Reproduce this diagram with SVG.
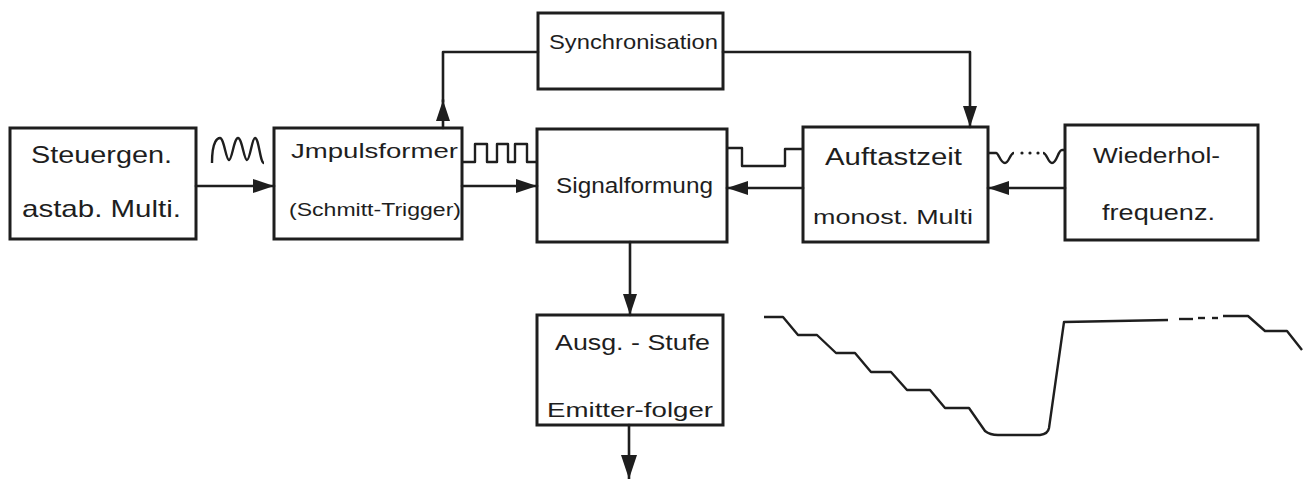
<svg xmlns="http://www.w3.org/2000/svg" width="1311" height="479" viewBox="0 0 1311 479">
<style>
.box{fill:none;stroke:#1e1e1e;stroke-width:3}
.ln{fill:none;stroke:#1e1e1e;stroke-width:2.6;stroke-linejoin:round;stroke-linecap:round}
.wv{fill:none;stroke:#1e1e1e;stroke-width:2.4;stroke-linejoin:round}
.t{font-family:"Liberation Sans",Arial,sans-serif;fill:#1e1e1e}
</style>
<defs>
<marker id="ah" markerUnits="userSpaceOnUse" markerWidth="22" markerHeight="16" refX="21" refY="7" orient="auto">
<path d="M0,0 L21,7 L0,14 z" fill="#1e1e1e"/>
</marker>
<marker id="ahb" markerUnits="userSpaceOnUse" markerWidth="25" markerHeight="18" refX="24" refY="8" orient="auto">
<path d="M0,0 L24,8 L0,16 z" fill="#1e1e1e"/>
</marker>
</defs>
<rect width="1311" height="479" fill="#ffffff"/>

<g id="steuergen">
<rect class="box" x="10" y="128" width="186" height="111"/>
<text class="t" x="31" y="163" font-size="24" textLength="141" lengthAdjust="spacingAndGlyphs">Steuergen.</text>
<text class="t" x="22" y="217" font-size="24" textLength="159" lengthAdjust="spacingAndGlyphs">astab. Multi.</text>
</g>
<g id="impulsformer">
<rect class="box" x="274" y="128" width="188" height="111"/>
<text class="t" x="291" y="158" font-size="20" textLength="167" lengthAdjust="spacingAndGlyphs">Jmpulsformer</text>
<text class="t" x="289" y="216" font-size="18" textLength="172" lengthAdjust="spacingAndGlyphs">(Schmitt-Trigger)</text>
</g>
<g id="signalformung">
<rect class="box" x="537" y="129" width="190" height="113"/>
<text class="t" x="556" y="193" font-size="22" textLength="157" lengthAdjust="spacingAndGlyphs">Signalformung</text>
</g>
<g id="synchronisation">
<rect class="box" x="538" y="13" width="185" height="76"/>
<text class="t" x="549" y="49" font-size="21" textLength="169" lengthAdjust="spacingAndGlyphs">Synchronisation</text>
</g>
<g id="auftastzeit">
<rect class="box" x="803" y="127" width="185" height="115"/>
<text class="t" x="825" y="165" font-size="23" textLength="137" lengthAdjust="spacingAndGlyphs">Auftastzeit</text>
<text class="t" x="813" y="224" font-size="21" textLength="160" lengthAdjust="spacingAndGlyphs">monost. Multi</text>
</g>
<g id="wiederholfrequenz">
<rect class="box" x="1065" y="125" width="193" height="115"/>
<text class="t" x="1093" y="163" font-size="22" textLength="127" lengthAdjust="spacingAndGlyphs">Wiederhol-</text>
<text class="t" x="1102" y="220" font-size="22" textLength="113" lengthAdjust="spacingAndGlyphs">frequenz.</text>
</g>
<g id="ausgangsstufe">
<rect class="box" x="537" y="315" width="186" height="110"/>
<text class="t" x="555" y="350" font-size="22" textLength="155" lengthAdjust="spacingAndGlyphs">Ausg. - Stufe</text>
<text class="t" x="547" y="417" font-size="21" textLength="166" lengthAdjust="spacingAndGlyphs">Emitter-folger</text>
</g>

<g id="connectors">
<line class="ln" x1="196" y1="186" x2="274" y2="186" marker-end="url(#ah)"/>
<line class="ln" x1="462" y1="186" x2="537" y2="186" marker-end="url(#ah)"/>
<line class="ln" x1="803" y1="188" x2="727" y2="188" marker-end="url(#ah)"/>
<line class="ln" x1="1065" y1="188" x2="988" y2="188" marker-end="url(#ah)"/>
<line class="ln" x1="443" y1="128" x2="443" y2="100" marker-end="url(#ah)"/>
<polyline class="ln" points="443,102 443,52 538,52"/>
<polyline class="ln" points="723,52 970,52 970,127" marker-end="url(#ah)"/>
<line class="ln" x1="630" y1="242" x2="630" y2="315" marker-end="url(#ah)"/>
<line class="ln" x1="629" y1="425" x2="629" y2="479" marker-end="url(#ahb)"/>
</g>

<g id="waveforms">
<path class="wv" d="M212,163 C212,140 218,138 220,138 C224,138 226,160 229,160 C232,160 234,138 238,138 C242,138 244,160 247,160 C250,160 252,138 255,138 C259,138 260,163 264,163"/>
<path class="wv" d="M462,162 L475,162 L475,144 L487,144 L487,162 L497,162 L497,144 L508,144 L508,162 L515,162 L515,144 L527,144 L527,162 L537,162"/>
<path class="wv" d="M727,148 L742,148 L742,166 L785,166 L785,149 L803,149"/>
<path class="wv" d="M988,153 L996,153 C999,153 1000,163 1005,163 C1009,163 1010,153 1014,153"/>
<circle cx="1022" cy="153" r="1.6" fill="#1e1e1e"/>
<circle cx="1030" cy="153" r="1.6" fill="#1e1e1e"/>
<circle cx="1038" cy="153" r="1.6" fill="#1e1e1e"/>
<path class="wv" d="M1043,153 C1047,153 1048,163 1052,163 C1057,163 1058,150 1062,150 L1065,150"/>
<path class="wv" stroke-width="2.8" d="M764,317 L783,317 L798,335 L817,335 L836,353 L855,353 L871,372 L891,372 L907,390 L930,390 L945,408 L969,408 L985,431 Q990,435 998,435 L1040,435 Q1048,434 1049,428 L1064,322 L1168,320"/>
<line class="wv" stroke-width="2.8" x1="1179" y1="319" x2="1193" y2="319"/>
<line class="wv" stroke-width="2.8" x1="1198" y1="318" x2="1205" y2="318"/>
<line class="wv" stroke-width="2.8" x1="1212" y1="318" x2="1218" y2="318"/>
<path class="wv" stroke-width="2.8" d="M1223,316 L1248,316 L1265,331 L1287,331 L1302,350"/>
</g>
</svg>
